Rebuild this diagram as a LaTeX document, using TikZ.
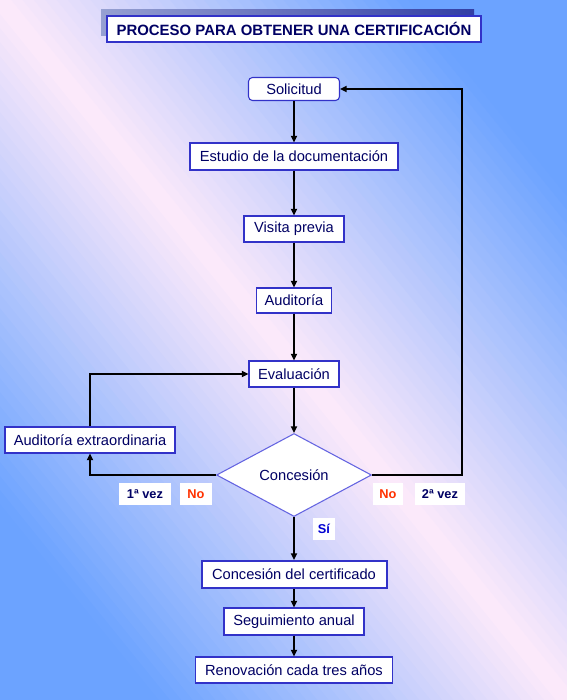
\documentclass[tikz,border=0pt]{standalone}
\usepackage{fontspec}
\setmainfont{Liberation Sans}
\usetikzlibrary{shapes.geometric,arrows.meta}
\def\PX{0.75pt}
\definecolor{bgblue}{RGB}{108,163,255}
\definecolor{bgpink}{RGB}{253,234,250}
\definecolor{navy}{RGB}{0,0,100}
\definecolor{bordblue}{RGB}{50,50,200}
\definecolor{diablue}{RGB}{100,100,225}
\definecolor{nored}{RGB}{255,50,0}
\definecolor{siblue}{RGB}{0,0,210}
\definecolor{shadL}{RGB}{150,160,210}
\definecolor{shadR}{RGB}{50,62,165}
\tikzset{
  box/.style={draw=bordblue, line width=0.8pt, fill=white, inner sep=0pt, text=navy,
    font=\fontsize{11}{13}\selectfont},
  dia/.style={draw=diablue, line width=0.8pt, fill=white, shape=diamond, inner sep=0pt,
    text=navy, font=\fontsize{11}{13}\selectfont},
  lab/.style={fill=white, inner sep=0pt, minimum height=22*\PX, font=\bfseries\fontsize{9.6}{11}\selectfont},
  arr/.style={draw=black, line width=1.5pt, -{Triangle[length=5pt,width=4.5pt]}}
}
\begin{document}
\begin{tikzpicture}[x=0.75pt,y=-0.75pt]
\useasboundingbox (0,0) rectangle (567,700);
% background: blue - pink - blue, iso-lines parallel to the top-left/bottom-right diagonal
\begin{scope}
\clip (0,0) rectangle (567,700);
\foreach \i in {-50,...,49}{
  \pgfmathsetmacro\da{\i*8.812}
  \pgfmathsetmacro\db{(\i+1)*8.812+0.8}
  \pgfmathsetmacro\pc{max(0,100*(1-abs(\i+0.5)/36))}
  \fill[bgpink!\pc!bgblue]
    ({283.5+\da*0.7771-600*0.6294},{350-\da*0.6294-600*0.7771}) --
    ({283.5+\db*0.7771-600*0.6294},{350-\db*0.6294-600*0.7771}) --
    ({283.5+\db*0.7771+600*0.6294},{350-\db*0.6294+600*0.7771}) --
    ({283.5+\da*0.7771+600*0.6294},{350-\da*0.6294+600*0.7771}) -- cycle;
}
\end{scope}
% title
\shade[left color=shadL, right color=shadR] (101,9) rectangle (474,35);
\node[draw=bordblue, line width=1pt, fill=white, inner sep=0pt, minimum width=374*\PX, minimum height=26*\PX,
  text=navy, font=\bfseries\fontsize{11.2}{13}\selectfont] (title) at (294,29) {PROCESO PARA OBTENER UNA CERTIFICACIÓN};
% nodes
\node[box, rounded corners=3pt, minimum width=91*\PX, minimum height=23*\PX] (sol) at (294,89) {Solicitud};
\node[box, minimum width=208*\PX, minimum height=27*\PX] (est) at (294,156.5) {Estudio de la documentación};
\node[box, minimum width=100*\PX, minimum height=26*\PX] (vis) at (294,229) {Visita previa};
\node[box, minimum width=75*\PX, minimum height=25*\PX] (aud) at (294,300.5) {Auditoría};
\node[box, minimum width=90*\PX, minimum height=26*\PX] (eva) at (294,374) {Evaluación};
\node[box, minimum width=170*\PX, minimum height=26*\PX] (ext) at (90,440) {Auditoría extraordinaria};
\node[dia, aspect=1.87, minimum width=155*\PX, minimum height=83*\PX] (con) at (294,475) {Concesión};
\node[box, line width=1.5pt, minimum width=185*\PX, minimum height=27*\PX] (cert) at (294,574.5) {Concesión del certificado};
\node[box, minimum width=140*\PX, minimum height=27*\PX] (seg) at (294,621.5) {Seguimiento anual};
\node[box, minimum width=197*\PX, minimum height=26*\PX] (ren) at (294,670) {Renovación cada tres años};
% labels
\node[lab, text=navy, minimum width=52*\PX] (l1) at (145,494) {1ª vez};
\node[lab, text=nored, minimum width=32*\PX] (n1) at (196,494) {No};
\node[lab, text=nored, minimum width=30*\PX] (n2) at (388,494) {No};
\node[lab, text=navy, minimum width=50*\PX] (l2) at (440,494) {2ª vez};
\node[lab, text=siblue, minimum width=22*\PX] (si) at (324,529) {Sí};
% connectors
\draw[arr] (sol.south) -- (est.north);
\draw[arr] (est.south) -- (vis.north);
\draw[arr] (vis.south) -- (aud.north);
\draw[arr] (aud.south) -- (eva.north);
\draw[arr] (eva.south) -- (con.north);
\draw[arr] (con.south) -- (cert.north);
\draw[arr] (cert.south) -- (seg.north);
\draw[arr] (seg.south) -- (ren.north);
\coordinate (R) at (462,89);
\draw[arr] (con.east) -| (R) -- (sol.east);
\draw[arr] (con.west) -| (ext.south);
\draw[arr] (ext.north) |- (eva.west);
\end{tikzpicture}
\end{document}
